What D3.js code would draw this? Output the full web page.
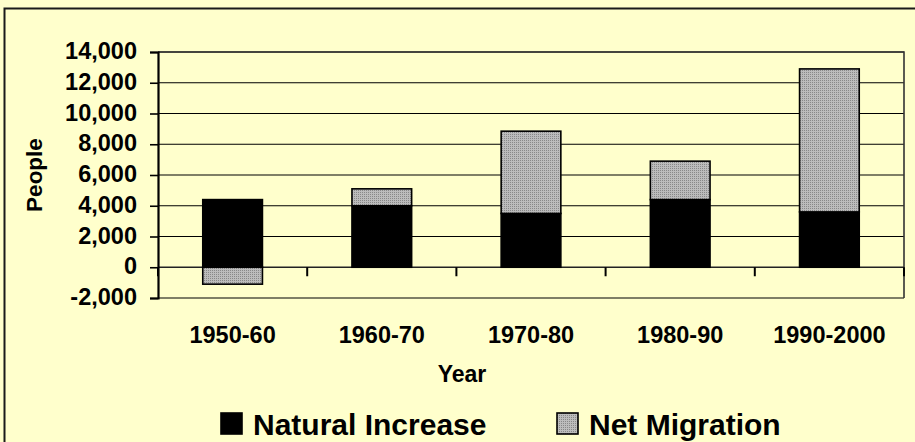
<!DOCTYPE html>
<html>
<head>
<meta charset="utf-8">
<script src="https://cdn.jsdelivr.net/npm/d3@7"></script>
<style>
  html, body { margin: 0; padding: 0; background: #FFFFCC; }
  svg { display: block; }
  text { font-family: Arial, "Liberation Sans", sans-serif; font-weight: bold; fill: #000; }
</style>
</head>
<body>
<div id="chart"></div>
<script>
// Data
const years = ["1950-60", "1960-70", "1970-80", "1980-90", "1990-2000"];
const naturalIncrease = [4400, 4000, 3500, 4400, 3600];
const netMigration = [-1100, 1100, 5350, 2500, 9300];
const yTicks = [-2000, 0, 2000, 4000, 6000, 8000, 10000, 12000, 14000];
const seriesNames = ["Natural Increase", "Net Migration"];

const W = 915, H = 442;
const plot = { left: 158, right: 904, top: 52, bottom: 298 };

const svg = d3.select("#chart")
  .append("svg")
  .attr("width", W)
  .attr("height", H);

// dotted grey fill like the original
const defs = svg.append("defs");
const pat = defs.append("pattern")
  .attr("id", "dots")
  .attr("patternUnits", "userSpaceOnUse")
  .attr("width", 2)
  .attr("height", 2);
pat.append("rect").attr("width", 2).attr("height", 2).attr("fill", "#bcbcbc");
pat.append("rect").attr("width", 1).attr("height", 1).attr("fill", "#888");

// background + outer frame
svg.append("rect")
  .attr("width", W).attr("height", H)
  .attr("fill", "#FFFFCC");
svg.append("rect")
  .attr("x", 4.5).attr("y", 8.5)
  .attr("width", W + 10).attr("height", H + 10)
  .attr("fill", "none")
  .attr("stroke", "#1a1a1a")
  .attr("stroke-width", 2);

// Scales
const x = d3.scaleBand()
  .domain(years)
  .range([plot.left, plot.right])
  .paddingInner(0.6)
  .paddingOuter(0.3);

const y = d3.scaleLinear()
  .domain([-2000, 14000])
  .range([plot.bottom, plot.top]);

// Gridlines
svg.append("g")
  .selectAll("line")
  .data(yTicks)
  .join("line")
  .attr("x1", plot.left).attr("x2", plot.right)
  .attr("y1", d => y(d)).attr("y2", d => y(d))
  .attr("stroke", d => d === 0 ? "#222" : "#000")
  .attr("stroke-width", d => d === 0 ? 1.6 : 1.2);

// plot area border (top/right)
svg.append("path")
  .attr("d", `M${plot.left},${plot.top}H${plot.right}V${plot.bottom}`)
  .attr("fill", "none")
  .attr("stroke", "#333")
  .attr("stroke-width", 1.6);

// Bars
const stacks = years.map((yr, i) => {
  const n = naturalIncrease[i], m = netMigration[i];
  return [
    { key: "nat", yr, y0: 0, y1: n },
    m >= 0 ? { key: "mig", yr, y0: n, y1: n + m } : { key: "mig", yr, y0: m, y1: 0 }
  ];
}).flat();

svg.append("g")
  .selectAll("rect")
  .data(stacks)
  .join("rect")
  .attr("x", d => x(d.yr))
  .attr("width", x.bandwidth())
  .attr("y", d => y(d.y1))
  .attr("height", d => y(d.y0) - y(d.y1))
  .attr("fill", d => d.key === "nat" ? "#000" : "url(#dots)")
  .attr("stroke", "#000")
  .attr("stroke-width", 1.6);

// Y axis
const fmt = d3.format(",");
const yAxis = svg.append("g")
  .attr("transform", `translate(${plot.left},0)`)
  .call(d3.axisLeft(y)
    .tickValues(yTicks)
    .tickFormat(d => fmt(d).replace("\u2212", "-"))
    .tickSize(8)
    .tickPadding(13));
yAxis.select(".domain").attr("stroke", "#000").attr("stroke-width", 2.2);
yAxis.selectAll(".tick line").attr("stroke", "#000").attr("stroke-width", 1.6);
yAxis.selectAll(".tick text")
  .attr("font-size", 23.5)
  .attr("font-family", "Arial, 'Liberation Sans', sans-serif")
  .attr("font-weight", "bold")
  .attr("dy", "0.28em");

// X axis at zero: ticks on category boundaries
const bounds = d3.range(years.length + 1).map(i => plot.left + i * (plot.right - plot.left) / years.length);
svg.append("g")
  .selectAll("line")
  .data(bounds)
  .join("line")
  .attr("x1", d => d).attr("x2", d => d)
  .attr("y1", y(0)).attr("y2", y(0) + 9)
  .attr("stroke", "#000")
  .attr("stroke-width", 2);

svg.append("g")
  .selectAll("text")
  .data(years)
  .join("text")
  .attr("x", d => x(d) + x.bandwidth() / 2)
  .attr("y", 343)
  .attr("text-anchor", "middle")
  .attr("font-size", 23.5)
  .text(d => d);

// Axis titles
svg.append("text")
  .attr("x", 462)
  .attr("y", 382)
  .attr("text-anchor", "middle")
  .attr("font-size", 23)
  .text("Year");

svg.append("text")
  .attr("transform", `translate(42,${(plot.top + plot.bottom) / 2}) rotate(-90)`)
  .attr("text-anchor", "middle")
  .attr("font-size", 22.5)
  .text("People");

// Legend
const legendX = [221, 557];
const legend = svg.append("g")
  .selectAll("g")
  .data(seriesNames)
  .join("g")
  .attr("transform", (d, i) => `translate(${legendX[i]},413)`);
legend.append("rect")
  .attr("width", 21).attr("height", 21)
  .attr("fill", (d, i) => i === 0 ? "#000" : "url(#dots)")
  .attr("stroke", "#000")
  .attr("stroke-width", 1.6);
legend.append("text")
  .attr("x", 32)
  .attr("y", 22)
  .attr("font-size", 30)
  .text(d => d);
</script>
</body>
</html>
